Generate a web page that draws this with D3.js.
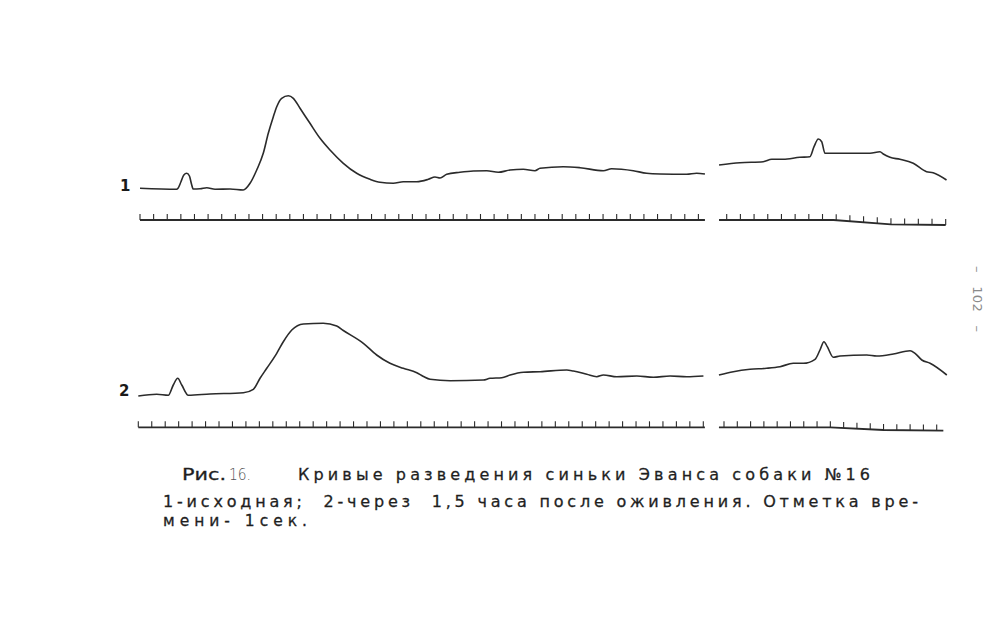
<!DOCTYPE html>
<html>
<head>
<meta charset="utf-8">
<script src="https://cdn.jsdelivr.net/npm/d3@7/dist/d3.min.js"></script>
<style>
  html, body { margin: 0; padding: 0; background: #fff; }
  svg { display: block; }
</style>
</head>
<body>
<svg id="chart" width="1004" height="635"></svg>
<script>
// ---------------- DATA (time in seconds, deflection in trace units) ----------------
// Curve 1 (initial), first recording window
const curve1Early = [
  [0,1.7],[2.69,0.7],[2.79,1.7],[3.0,8],[3.22,15],[3.43,16.7],[3.63,14],[3.78,6],[3.91,1],
  [4.41,1.2],[4.90,2.3],[5.51,0.7],[6.61,1],[7.58,0],[8.08,6.7],[8.57,20],[9.05,36.7],
  [9.42,56.7],[9.79,73.3],[10.04,83.3],[10.40,91.7],[10.89,94.3],[11.26,91.7],[11.75,81.7],
  [12.48,66.7],[13.22,51.7],[13.95,40],[14.93,26.7],[15.91,16.7],[16.89,10.7],[17.62,7.7],
  [18.60,6.7],[19.33,8.3],[20.32,8.3],[21.17,10.7],[21.66,13.0],[22.03,12],[22.52,15.7],
  [23.49,17.7],[24.47,19],[25.46,19.3],[26.31,17.7],[27.17,20],[28.14,20.7],[29.00,19.3],
  [29.37,21.7],[31.08,23.3],[32.31,22.3],[34.02,19.3],[34.63,21.3],[36.22,19.3],[37.20,16.7],
  [38.18,16],[40.14,15.7],[40.87,16.7],[41.48,16]
];
// Curve 1, later recording window
const curve1Late = [
  [-0.56,25],[0.97,27.3],[2.67,28.3],[3.29,30.7],[4.13,30.7],[5.35,32.7],[6.08,33.3],
  [6.38,43.3],[6.69,51],[6.94,48.3],[7.18,36.7],[8.28,36.7],[9.74,36.7],[10.47,36.7],
  [11.20,38.3],[11.44,36],[11.93,32.7],[12.66,30.7],[13.63,26.7],[14.60,18.3],[15.08,17.3],
  [16.06,10]
];
// Curve 2 (1.5 h after revival), first recording window
const curve2Early = [
  [0,0],[1.37,1.7],[2.23,0.7],[2.60,11],[2.93,17.7],[3.23,11],[3.72,0.7],[5.33,2],[7.81,3.3],
  [8.55,6.7],[9.05,17.7],[9.55,27.7],[10.29,42.7],[10.78,54.3],[11.41,66],[12.27,72],
  [13.75,72.7],[14.75,70],[15.24,65.5],[16.73,52.7],[17.72,41],[18.71,32.7],[19.70,27.7],
  [20.70,23.3],[21.2,19.5],[21.69,16.7],[23.18,15.3],[25.65,16],[26.15,17.7],[27.02,18.3],
  [27.64,21],[28.63,23.7],[29.87,24.3],[31.85,26],[32.34,25],[33.34,21.7],[34.08,19.3],
  [34.57,21],[35.57,19.3],[37.06,20],[38.29,18.7],[39.53,20],[40.77,19.3],[42.01,20]
];
// Curve 2, later recording window
const curve2Late = [
  [-0.38,21],[0.70,24.3],[1.96,26.7],[3.21,27.7],[4.21,29.3],[5.21,32.7],[5.97,32.7],
  [6.85,36.7],[7.22,46],[7.52,54.3],[7.77,49.3],[8.22,38.7],[8.73,40],[10.74,41],
  [11.49,40],[12.74,42],[14.00,45.3],[14.37,42.7],[14.88,36],[15.50,32.7],[16.76,21]
];
// Time marks (1 s) : tick indices per window and sag of the marker line [t, sag]
const marks1Early = d3.range(0, 42);
const marks1Late  = d3.range(0, 17);
const marks2Early = d3.range(0, 43);
const marks2Late  = d3.range(0, 17);
const sag1Early = [[0,0],[41.48,0]];
const sag1Late  = [[-0.56,0],[7.8,0],[12,4.3],[16,5]];
const sag2Early = [[0,0],[42.12,0]];
const sag2Late  = [[-0.38,0],[8,0],[12,2.7],[16.5,3.4]];
// Labels
const rowLabels = ["1", "2"];
const captionTitleA = "Рис.";
const captionTitleB = "16.";
const captionTitle = "Кривые разведения синьки Эванса собаки №16";
const captionLine2 = "1-исходная;  2-через  1,5 часа после оживления. Отметка вре-";
const captionLine3 = "мени- 1сек.";
const pageNumber = "–   102   –";

// ---------------- LAYOUT ----------------
const svg = d3.select("#chart");
const ink = "#2b2b2b";

const rows = [
  { label: rowLabels[0], base: 190, timerY: 220, labelX: 120, labelY: 191,
    segs: [
      { data: curve1Early, marks: marks1Early, sag: sag1Early, dom: [0,41], rng: [140, 698.4] },
      { data: curve1Late,  marks: marks1Late,  sag: sag1Late,  dom: [0,16], rng: [726.7, 945.7] }
    ] },
  { label: rowLabels[1], base: 396, timerY: 427.3, labelX: 119, labelY: 396,
    segs: [
      { data: curve2Early, marks: marks2Early, sag: sag2Early, dom: [0,42], rng: [138.3, 703.3] },
      { data: curve2Late,  marks: marks2Late,  sag: sag2Late,  dom: [0,16], rng: [724, 936.7] }
    ] }
];

rows.forEach(row => {
  const y = d3.scaleLinear().domain([0, 100]).range([row.base, row.base - 100]);
  svg.append("text")
    .attr("x", row.labelX).attr("y", row.labelY)
    .attr("font-family", "DejaVu Sans, sans-serif")
    .attr("font-weight", "bold").attr("font-size", 15)
    .attr("fill", "#1a1a1a").text(row.label);

  row.segs.forEach(seg => {
    const x = d3.scaleLinear().domain(seg.dom).range(seg.rng);
    const line = d3.line()
      .x(d => x(d[0])).y(d => y(d[1]))
      .curve(d3.curveMonotoneX);
    svg.append("path")
      .attr("d", line(seg.data))
      .attr("fill", "none").attr("stroke", ink)
      .attr("stroke-width", 1.6).attr("stroke-linejoin", "round");

    // time marker line
    const sagScale = d3.scaleLinear()
      .domain(seg.sag.map(d => d[0])).range(seg.sag.map(d => d[1]));
    const tLine = d3.line()
      .x(d => x(d[0])).y(d => row.timerY + d[1]);
    svg.append("path")
      .attr("d", tLine(seg.sag))
      .attr("fill", "none").attr("stroke", ink).attr("stroke-width", 1.8);
    svg.append("g").selectAll("line")
      .data(seg.marks).join("line")
      .attr("x1", d => x(d)).attr("x2", d => x(d))
      .attr("y1", d => row.timerY + sagScale(d))
      .attr("y2", d => row.timerY + sagScale(d) - 6)
      .attr("stroke", ink).attr("stroke-width", 1.1);
  });
});

// ---------------- CAPTION ----------------
const cap = svg.append("g")
  .attr("font-family", "DejaVu Sans, sans-serif")
  .attr("font-size", 16).attr("fill", "#1f1f1f")
  .attr("stroke", "#1f1f1f").attr("stroke-width", 0.3);
cap.append("text").attr("x", 182).attr("y", 480).text(captionTitleA)
  .attr("textLength", 44).attr("lengthAdjust", "spacingAndGlyphs");
cap.append("text").attr("x", 229).attr("y", 480).text(captionTitleB)
  .attr("font-weight", 200).attr("fill", "#555").attr("stroke", "none")
  .attr("textLength", 22).attr("lengthAdjust", "spacingAndGlyphs");
cap.append("text").attr("x", 298).attr("y", 480).text(captionTitle)
  .attr("textLength", 572).attr("lengthAdjust", "spacing");
cap.append("text").attr("x", 163).attr("y", 507).text(captionLine2)
  .attr("xml:space", "preserve")
  .attr("textLength", 755).attr("lengthAdjust", "spacing");
cap.append("text").attr("x", 163).attr("y", 526).text(captionLine3)
  .attr("font-size", 15.5)
  .attr("textLength", 144).attr("lengthAdjust", "spacing");

// ---------------- PAGE NUMBER ----------------
svg.append("text")
  .attr("transform", "translate(973,299) rotate(90)")
  .attr("text-anchor", "middle")
  .attr("font-family", "DejaVu Sans, sans-serif")
  .attr("font-size", 13).attr("fill", "#8a8a8a")
  .attr("xml:space", "preserve")
  .attr("textLength", 66).attr("lengthAdjust", "spacing")
  .text(pageNumber);
</script>
</body>
</html>
